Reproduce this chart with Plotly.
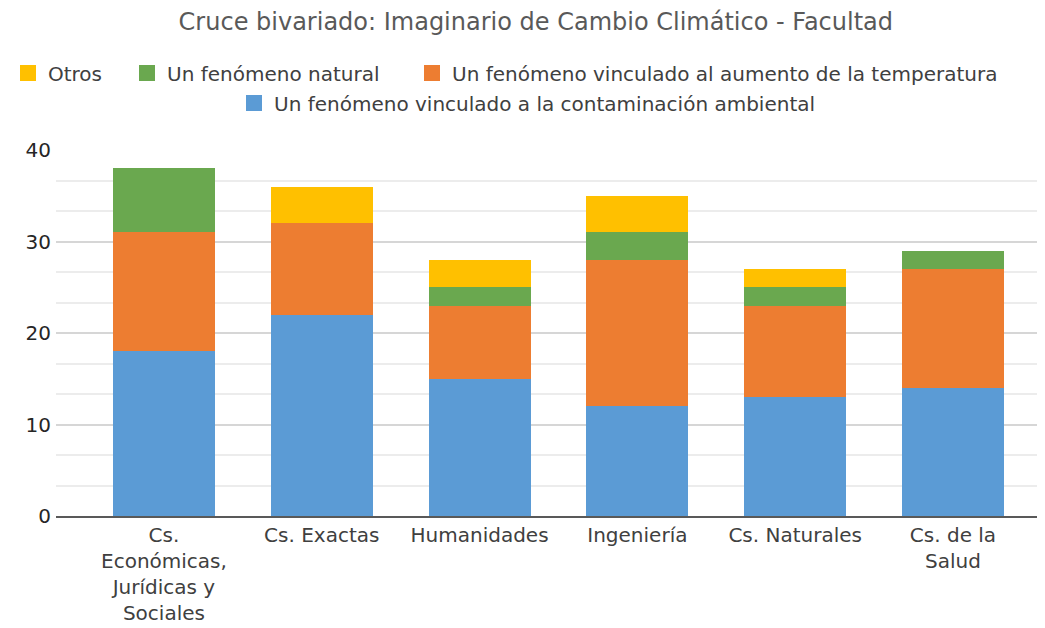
import plotly.graph_objects as go

categories = ["Cs.<br>Económicas,<br>Jurídicas y<br>Sociales", "Cs. Exactas", "Humanidades",
              "Ingeniería", "Cs. Naturales", "Cs. de la<br>Salud"]
contaminacion = [18, 22, 15, 12, 13, 14]
temperatura = [13, 10, 8, 16, 10, 13]
natural = [7, 0, 2, 3, 2, 2]
otros = [0, 4, 3, 4, 2, 0]

W, H = 1037, 620  # page body has an 8px margin

series = [
    ("Un fenómeno vinculado a la contaminación ambiental", contaminacion, "#5B9BD5", "legend4", 226, 95),
    ("Un fenómeno vinculado al aumento de la temperatura", temperatura, "#ED7D31", "legend3", 404, 65),
    ("Un fenómeno natural", natural, "#6AA84F", "legend2", 119, 65),
    ("Otros", otros, "#FFC000", "legend", 0, 65),
]

FONT = "DejaVu Sans"
fig = go.Figure()
legends = {}
for name, vals, color, leg, lx, ly in series:
    fig.add_trace(go.Bar(x=list(range(len(categories))), y=vals, name=name, legendgroup=name,
                         showlegend=False,
                         marker=dict(color=color, line=dict(width=0)), width=0.646))
    # legend-only entry with a larger square swatch
    fig.add_trace(go.Scatter(x=[None], y=[None], mode="markers", name=name, legendgroup=name,
                             legend=leg, marker=dict(symbol="square", size=20, color=color)))
    legends[leg] = dict(orientation="h", xref="container", yref="container",
                        x=lx / W, y=1 - ly / H, xanchor="left", yanchor="middle",
                        itemsizing="trace", bgcolor="rgba(0,0,0,0)",
                        font=dict(family=FONT, size=20, color="#404040"))

fig.update_layout(
    width=W, height=H,
    barmode="stack",
    plot_bgcolor="white", paper_bgcolor="white",
    margin=dict(l=48, r=0, t=142, b=112, autoexpand=False),
    title=dict(text="Cruce bivariado: Imaginario de Cambio Climático - Facultad",
               x=0.509, xanchor="center", y=1 - 14 / H, yanchor="middle",
               font=dict(family=FONT, size=24, color="#595959")),
    font=dict(family=FONT, color="#404040"),
    **legends,
)
fig.update_xaxes(tickmode="array", tickvals=list(range(len(categories))), ticktext=categories,
                 range=[-0.684, 5.583], showgrid=False, showline=True, linecolor="#595959",
                 linewidth=2, ticks="", tickfont=dict(family=FONT, size=20, color="#404040"))
fig.update_yaxes(range=[0, 40], dtick=10, tick0=0, showgrid=True, gridcolor="#d6d6d6", gridwidth=1.5,
                 minor=dict(dtick=10 / 3, tick0=0, showgrid=True, gridcolor="#ececec", gridwidth=1.5),
                 zeroline=False, showline=False, ticks="", ticklabelstandoff=4,
                 tickfont=dict(family=FONT, size=20, color="#262626"))
fig.write_html("out.html")
